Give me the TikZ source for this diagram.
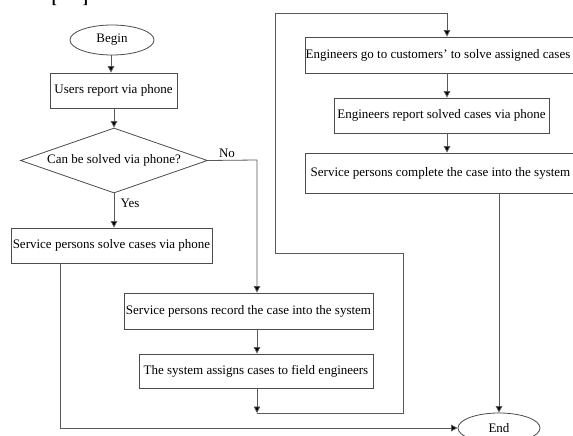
\documentclass[tikz,border=0pt]{standalone}
\usepackage{fontspec}
\setmainfont{Liberation Serif}
\usetikzlibrary{shapes.geometric,arrows.meta}
\begin{document}
\begin{tikzpicture}[x=1pt,y=-1pt,
  every node/.style={font=\fontsize{13}{15}\selectfont, text=black},
  box/.style={draw=black!70, line width=0.8pt, rectangle, inner sep=0pt},
  oval/.style={draw=black!70, line width=0.8pt, ellipse, inner sep=0pt},
  dec/.style={draw=black!70, line width=0.8pt, diamond, aspect=2.88, inner sep=0pt},
  conn/.style={draw=black!65, line width=0.8pt},
  arr/.style={conn, -{Triangle[length=6.5pt,width=6.5pt,fill=black]}},
  lbl/.style={inner sep=0pt}
]
\useasboundingbox (0,0) rectangle (573,436);
\clip (0,0) rectangle (573,436);
\fill[white] (0,0) rectangle (573,436);

% cut-off heading remnant
\node[lbl, anchor=base, font=\fontsize{16}{18}\bfseries\selectfont] (hdr) at (70,4) {[\hspace{26pt}]};

% nodes
\node[oval, minimum width=84, minimum height=30] (begin) at (112,40) {Begin};
\node[box, minimum width=127, minimum height=35] (users) at (113.5,90.5) {Users report via phone};
\node[dec, minimum width=187, minimum height=65] (dcs) at (114,160.5) {Can be solved via phone?};
\node[box, minimum width=201, minimum height=35] (solve) at (111.5,245.5) {Service persons solve cases via phone};
\node[box, minimum width=249, minimum height=36] (rec) at (248.5,311) {Service persons record the case into the system};
\node[box, minimum width=234, minimum height=34] (asg) at (256,371) {The system assigns cases to field engineers};
\node[box, minimum width=284, minimum height=36] (ego) at (447,55) {};
\node[lbl] (egotxt) at (438,55) {Engineers go to customers’ to solve assigned cases};
\node[box, minimum width=215, minimum height=35] (rep) at (441.5,115.5) {Engineers report solved cases via phone};
\node[box, minimum width=284, minimum height=40] (cmp) at (447,173) {};
\node[lbl] (cmptxt) at (440.5,173) {Service persons complete the case into the system};
\node[oval, minimum width=82, minimum height=30] (end) at (499,428) {End};

\node[lbl] (no) at (227,153) {No};
\node[lbl] (yes) at (130,203) {Yes};

% helper coordinates
\coordinate (noX) at (257,160);
\coordinate (j1) at (257,413);
\coordinate (j2) at (403,413);
\coordinate (j3) at (403,253);
\coordinate (j4) at (275,253);
\coordinate (j5) at (275,13);
\coordinate (j6) at (447,13);
\coordinate (s1) at (60,263);
\coordinate (s2) at (60,428);

% connectors
\draw[arr] (begin.south -| 111,0) -- (111,0 |- users.north);
\draw[arr] (users.south -| 114,0) -- (dcs.north);
\draw[arr] (dcs.south) -- (dcs.south |- solve.north);
\draw[arr] (dcs.east) -- (noX) -- (noX |- rec.north);
\draw[arr] (noX |- rec.south) -- (noX |- asg.north);
\draw[arr] (noX |- asg.south) -- (j1);
\draw[arr] (j1) -- (j2) -- (j3) -- (j4) -- (j5) -- (j6) -- (ego.north);
\draw[arr] (ego.south) -- (ego.south |- rep.north);
\draw[arr] (ego.south |- rep.south) -- (cmp.north);
\draw[arr] (cmp.south -| end.north) -- (end.north);
\draw[arr] (s1) -- (s2) -- (end.west);
\end{tikzpicture}
\end{document}
